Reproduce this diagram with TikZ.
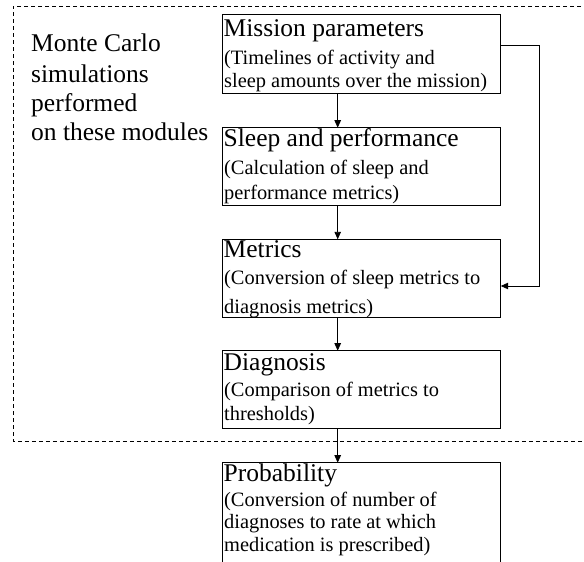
\documentclass[tikz,border=0pt]{standalone}
\usepackage{fontspec}
\setmainfont{Liberation Serif}
\usetikzlibrary{arrows.meta}
\begin{document}
\begin{tikzpicture}[x=1pt,y=-1pt,
  box/.style={draw=black,line width=0.9pt,anchor=north west,inner sep=0pt,outer sep=0pt,minimum width=278.4pt},
  ttl/.style={anchor=base west,inner sep=0pt,font=\fontsize{25.5}{28}\selectfont},
  sub/.style={anchor=base west,inner sep=0pt,font=\fontsize{20.4}{24}\selectfont},
  arr/.style={draw=black,line width=0.9pt,-{Triangle[length=7.5pt,width=6.5pt]}},
  grp/.style={draw=black,line width=0.8pt,dash pattern=on 4pt off 3pt}]
\useasboundingbox (0,0) rectangle (584,562);
\clip (0,0) rectangle (584,562);
% dashed group frame (open on the right)
\draw[grp] (595,6) -- (13.3,6) -- (13.3,441.7) -- (595,441.7);
% left label
\node[ttl] (m1) at (31,51.7) {Monte Carlo};
\node[ttl] (m2) at (31,82) {simulations};
\node[ttl] (m3) at (31,111) {performed};
\node[ttl] (m4) at (31,140) {on these modules};
% boxes
\node[box,minimum height=78.6pt] (b1) at (222.3,14.7) {};
\node[box,minimum height=77.3pt] (b2) at (222.3,127.7) {};
\node[box,minimum height=78pt] (b3) at (222.3,239.3) {};
\node[box,minimum height=77.6pt] (b4) at (222.3,350.7) {};
\node[box,minimum height=130pt] (b5) at (222.3,462.7) {};
% box texts
\node[ttl] (t1) at (223.5,36) {Mission parameters};
\node[sub] (t1a) at (224,64) {(Timelines of activity and};
\node[sub] (t1b) at (224,87.3) {sleep amounts over the mission)};
\node[ttl] (t2) at (223.5,146.7) {Sleep and performance};
\node[sub] (t2a) at (224,174) {(Calculation of sleep and};
\node[sub] (t2b) at (224,199) {performance metrics)};
\node[ttl] (t3) at (223.5,257) {Metrics};
\node[sub] (t3a) at (224,284) {(Conversion of sleep metrics to};
\node[sub] (t3b) at (224,313) {diagnosis metrics)};
\node[ttl] (t4) at (223.5,370) {Diagnosis};
\node[sub] (t4a) at (224,396.7) {(Comparison of metrics to};
\node[sub] (t4b) at (224,420.7) {thresholds)};
\node[ttl] (t5) at (223.5,481) {Probability};
\node[sub] (t5a) at (224,506) {(Conversion of number of};
\node[sub] (t5b) at (224,528) {diagnoses to rate at which};
\node[sub] (t5c) at (224,551) {medication is prescribed)};
% connectors
\coordinate (ax) at (337.7,0);
\coordinate (fbtop) at (539.3,45);
\coordinate (fbbot) at (539.3,286);
\draw[arr] (b1.south -| ax) -- (b2.north -| ax);
\draw[arr] (b2.south -| ax) -- (b3.north -| ax);
\draw[arr] (b3.south -| ax) -- (b4.north -| ax);
\draw[arr] (b4.south -| ax) -- (b5.north -| ax);
\draw[arr] (b1.east |- fbtop) -- (fbtop) -- (fbbot) -- (b3.east |- fbbot);
\end{tikzpicture}
\end{document}
